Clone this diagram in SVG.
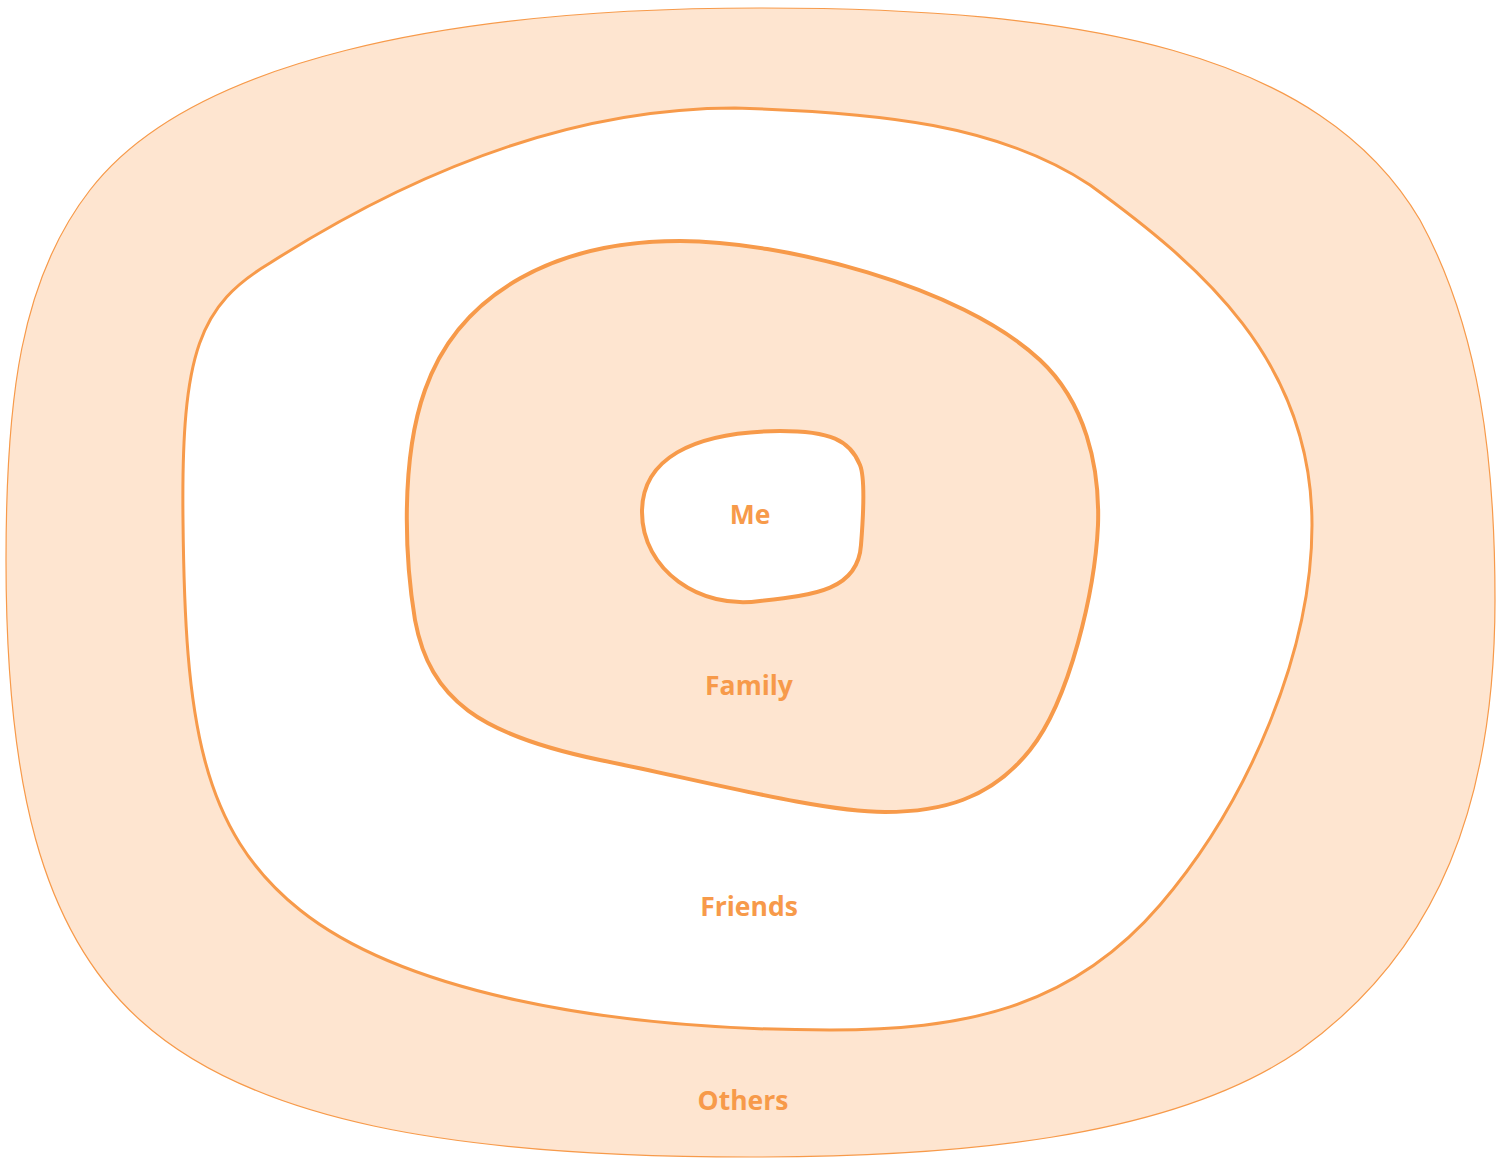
<svg xmlns="http://www.w3.org/2000/svg" width="1503" height="1158" viewBox="0 0 1503 1158">
<style>
.lbl{font-family:"Open Sans","Liberation Sans",sans-serif;font-weight:bold;font-size:26.5px;fill:#F79A4A;text-anchor:middle;dominant-baseline:central}
.peach{fill:#FEE5D0}
.white{fill:#FFFFFF}
.ln{stroke:#F79A4A;stroke-linejoin:round}
</style>
<rect width="1503" height="1158" fill="#FFFFFF"/>
<g id="others">
<path class="peach ln" stroke-width="1.2" d="M 760 8 C 1080 8, 1320 50, 1420 220 C 1480 330, 1495 460, 1495 600 C 1495 800, 1440 950, 1300 1050 C 1170 1140, 950 1157, 750 1157 C 450 1157, 250 1120, 140 1020 C 40 930, 6 780, 6 560 C 6 400, 20 280, 90 190 C 190 60, 450 8, 760 8 Z"/>
<text class="lbl" x="743" y="1100">Others</text>
</g>
<g id="friends">
<path class="white ln" stroke-width="3" d="M 735 108 C 880 112, 1000 125, 1090 185 C 1200 265, 1312 360, 1312 525 C 1312 650, 1250 800, 1160 905 C 1070 1010, 960 1030, 830 1030 C 600 1030, 400 990, 300 910 C 200 830, 185 720, 183 520 C 181 350, 200 305, 270 263 C 400 180, 560 108, 735 108 Z"/>
<text class="lbl" x="749" y="906">Friends</text>
</g>
<g id="family">
<path class="peach ln" stroke-width="4" d="M 680 241 C 780 241, 960 285, 1040 360 C 1085 402, 1100 465, 1098 525 C 1095 590, 1070 700, 1030 750 C 990 800, 940 812, 885 812 C 820 812, 700 780, 600 760 C 480 735, 430 700, 415 620 C 405 560, 400 460, 425 390 C 460 290, 560 241, 680 241 Z"/>
<text class="lbl" x="749" y="685">Family</text>
</g>
<g id="me">
<path class="white ln" stroke-width="4" d="M 642 512 C 642 460, 690 432, 780 431 C 830 431, 850 440, 860 465 C 866 480, 863 520, 861 545 C 858 590, 815 595, 760 601 C 700 610, 642 570, 642 512 Z"/>
<text class="lbl" x="750" y="514">Me</text>
</g>
<g id="connectors"/>
</svg>
